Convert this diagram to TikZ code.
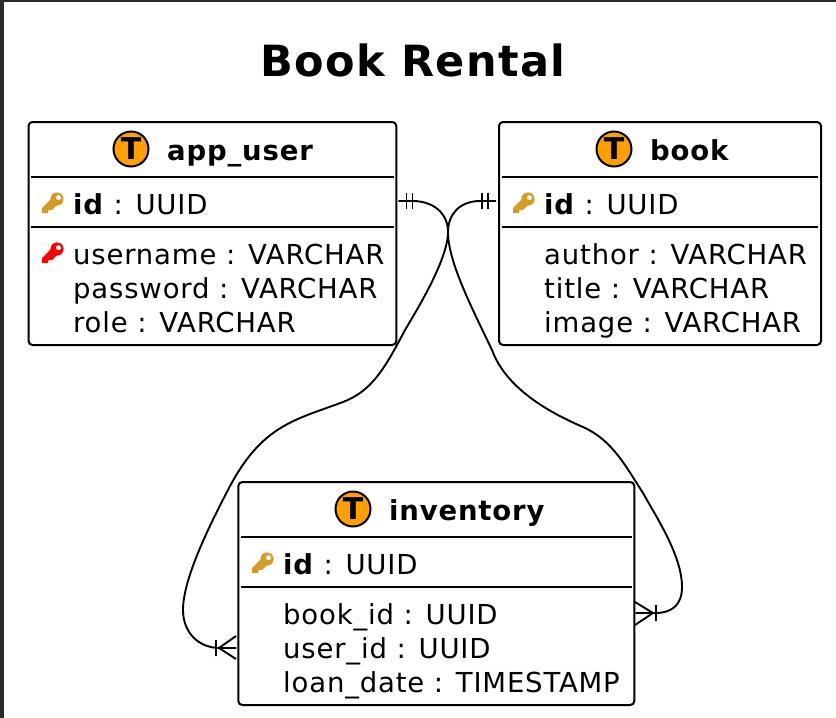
\documentclass[tikz,border=0pt]{standalone}
\usepackage{fontspec}
\setmainfont[LetterSpace=3]{DejaVu Sans}
\definecolor{tcirc}{HTML}{FF9F00}
\definecolor{keygold}{HTML}{D39B27}
\definecolor{edgeframe}{HTML}{2B2B2B}
\tikzset{
  tablebox/.style={draw=black,line width=2pt,rounded corners=4pt,anchor=north west,inner sep=0pt,outer sep=0pt,fill=white},
  divider/.style={draw=black,line width=1.8pt},
  rowtext/.style={anchor=base west,inner sep=0pt,font=\fontsize{27.5}{27.5}\selectfont},
  headtext/.style={anchor=base west,inner sep=0pt,font=\fontsize{27.5}{27.5}\selectfont\bfseries},
  titletext/.style={anchor=center,inner sep=0pt,font=\fontsize{43}{43}\selectfont\bfseries},
  tcircle/.style={circle,draw=black,fill=tcirc,line width=2pt,minimum size=35pt,inner sep=0pt,font=\fontsize{30}{30}\selectfont\bfseries},
  relation/.style={draw=black,line width=1.9pt},
}
\newcommand{\keyicon}[3]{%
  \begin{scope}[shift={(#1,#2)}]
    \fill[#3,even odd rule] (5,-5) circle (6.6) (6.5,-6.3) circle (2.6);
    \fill[#3] (0,-6) -- (-10,4) -- (-10,9) -- (-4,9) -- (-3.5,6) -- (0,6) -- (5,1) -- cycle;
  \end{scope}}
\begin{document}
\begin{tikzpicture}[x=1pt,y=-1pt]
  \useasboundingbox (0,0) rectangle (836,718);
  \fill[edgeframe] (0,0) rectangle (836,718);
  \fill[white] (4,2) rectangle (836,718);

  \node[titletext] (title) at (413,60) {Book Rental};

  % app_user
  \node[tablebox,minimum width=367.8pt,minimum height=223pt] (appuser) at (28.5,122) {};
  \node[tcircle] (appuserT) at (131,149) {T};
  \node[headtext] (appuserH) at (167,160) {app\_user};
  \draw[divider] (31,177) -- (394,177);
  \draw[divider] (31,227) -- (394,227);
  \keyicon{52}{204}{keygold}
  \node[rowtext] (appuserId) at (73,214) {\textbf{id} : UUID};
  \keyicon{52}{254}{red}
  \node[rowtext] (appuserA) at (73,264) {username : VARCHAR};
  \node[rowtext] (appuserB) at (73,298) {password : VARCHAR};
  \node[rowtext] (appuserC) at (73,332) {role : VARCHAR};

  % book
  \node[tablebox,minimum width=322pt,minimum height=223pt] (book) at (499,122) {};
  \node[tcircle] (bookT) at (614,149) {T};
  \node[headtext] (bookH) at (650,160) {book};
  \draw[divider] (502,177) -- (818,177);
  \draw[divider] (502,227) -- (818,227);
  \keyicon{523}{204}{keygold}
  \node[rowtext] (bookId) at (544,214) {\textbf{id} : UUID};
  \node[rowtext] (bookA) at (544,264) {author : VARCHAR};
  \node[rowtext] (bookB) at (544,298) {title : VARCHAR};
  \node[rowtext] (bookC) at (544,332) {image : VARCHAR};

  % inventory
  \node[tablebox,minimum width=396pt,minimum height=223pt] (inventory) at (238.3,482) {};
  \node[tcircle] (inventoryT) at (353,509) {T};
  \node[headtext] (inventoryH) at (389,520) {inventory};
  \draw[divider] (241,537) -- (632,537);
  \draw[divider] (241,587) -- (632,587);
  \keyicon{262}{564}{keygold}
  \node[rowtext] (inventoryId) at (283,574) {\textbf{id} : UUID};
  \node[rowtext] (inventoryA) at (283,624) {book\_id : UUID};
  \node[rowtext] (inventoryB) at (283,658) {user\_id : UUID};
  \node[rowtext] (inventoryC) at (283,692) {loan\_date : TIMESTAMP};

  % ports
  \coordinate (p1) at ([xshift=2pt,yshift=32.5pt]appuser.east);
  \coordinate (p2) at ([xshift=-3pt,yshift=32.5pt]book.west);
  \coordinate (p3) at ([xshift=-2pt,yshift=-54.5pt]inventory.west);
  \coordinate (p4) at ([xshift=1pt,yshift=-19.5pt]inventory.east);

  % app_user -- inventory
  \draw[relation] (p1) -- ++(14,0) .. controls +(22,0) and (448,214) .. (448,232)
     .. controls (448,258) and (420,305) .. (405,330)
     .. controls (385,368) and (372,391) .. (343,402)
     .. controls (295,420) and (262,425) .. (229,488)
     .. controls (207,530) and (183,580) .. (183,610)
     .. controls (183,632) and (198,648) .. (220,648) -- (p3);
  % book -- inventory
  \draw[relation] (p2) -- ++(-16,0) .. controls +(-20,0) and (448,214) .. (448,232)
     .. controls (448,262) and (472,308) .. (492,350)
     .. controls (506,388) and (548,412) .. (583,427)
     .. controls (612,440) and (625,465) .. (643,493)
     .. controls (655,515) and (682,555) .. (682,587)
     .. controls (682,605) and (672,613) .. (655,613) -- (p4);

  % one-and-only-one marks
  \draw[relation] (406.5,193) -- (406.5,209) (412.5,193) -- (412.5,209);
  \draw[relation] (482,193) -- (482,209) (488,193) -- (488,209);
  % crow's feet
  \draw[relation] (216,640) -- (216,656) (236,636) -- (219,648) -- (236,659);
  \draw[relation] (656,605) -- (656,621) (635,602) -- (653,613) -- (635,625);
\end{tikzpicture}
\end{document}
